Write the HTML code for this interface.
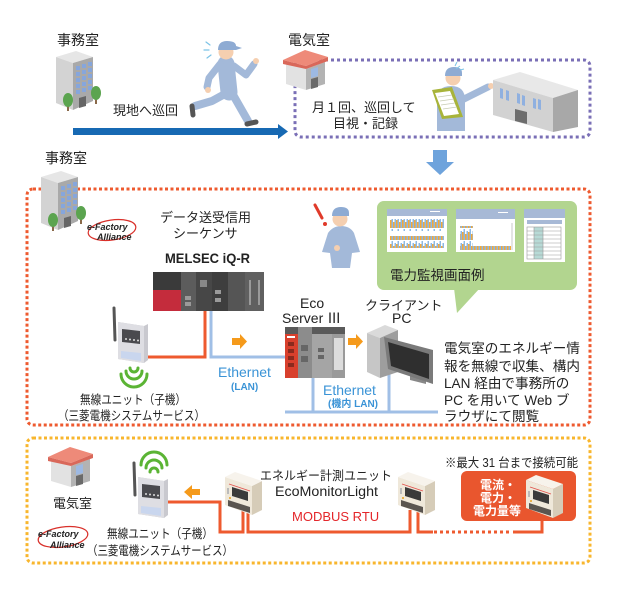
<!DOCTYPE html>
<html><head><meta charset="utf-8">
<style>
html,body{margin:0;padding:0;background:#fff;}
svg{display:block;}
text{font-family:"Liberation Sans","Noto Sans CJK JP",sans-serif;fill:#222;}
</style></head><body>
<svg width="617" height="606" viewBox="0 0 617 606" xmlns="http://www.w3.org/2000/svg">
<defs>
 <pattern id="bars" width="6" height="12" patternUnits="userSpaceOnUse">
  <rect x="0" y="4" width="1.5" height="8" fill="#f2a93b"/>
  <rect x="1.5" y="1" width="1.5" height="11" fill="#8db8e3"/>
  <rect x="3" y="6" width="1.5" height="6" fill="#f2a93b"/>
  <rect x="4.5" y="3" width="1.5" height="9" fill="#8db8e3"/>
 </pattern>
 <g id="bldg">
  <polygon points="1,7 21,1 38,7 18,13" fill="#e6e6e6"/>
  <polygon points="1,7 18,13 18,60 1,53" fill="#d3d3d3"/>
  <polygon points="18,13 38,7 38,51 18,60" fill="#a9a9a9"/>
  <g fill="#86a6dc">
   <rect x="21" y="16" width="4" height="4"/><rect x="27" y="14" width="4" height="4"/><rect x="33" y="12" width="4" height="4"/>
   <rect x="21" y="22" width="4" height="4"/><rect x="27" y="20" width="4" height="4"/><rect x="33" y="18" width="4" height="4"/>
   <rect x="21" y="28" width="4" height="4"/><rect x="27" y="26" width="4" height="4"/><rect x="33" y="24" width="4" height="4"/>
   <rect x="21" y="34" width="4" height="4"/><rect x="27" y="32" width="4" height="4"/><rect x="33" y="30" width="4" height="4"/>
   <rect x="21" y="40" width="4" height="4"/><rect x="27" y="38" width="4" height="4"/><rect x="33" y="36" width="4" height="4"/>
  </g>
  <polygon points="24,48 31,46 31,56 24,58" fill="#666"/>
  <rect x="12" y="52" width="2" height="9" fill="#8a6a4a"/>
  <ellipse cx="13" cy="50" rx="5" ry="7" fill="#5ba44f"/>
  <rect x="40" y="45" width="2" height="9" fill="#8a6a4a"/>
  <ellipse cx="41" cy="43" rx="5" ry="7" fill="#5ba44f"/>
 </g>
 <g id="house">
  <polygon points="3,13 23,19 23,40 3,34" fill="#e2e2e2"/>
  <polygon points="23,19 42,12 42,34 23,40" fill="#b3b3b3"/>
  <polygon points="28,19 35,17 35,26 28,28" fill="#9db9e3"/>
  <polygon points="28,29 35,27 35,37 28,39" fill="#6a6a6a"/>
  <polygon points="0,10 22,0 45,7 23,16" fill="#ee8a79"/>
  <polygon points="0,10 23,16 45,7 45,11 23,19 0,14" fill="#d9685a"/>
 </g>
 <g id="eml">
  <polygon points="3,5 30,14 30,43 3,33" fill="#efe8da"/>
  <polygon points="30,14 40,9 40,38 30,43" fill="#d6ccb8"/>
  <polygon points="3,5 13,0 40,9 30,14" fill="#f7f3ec"/>
  <polygon points="10,15 26,20 26,29 10,24" fill="#3a3a3a"/>
  <line x1="7" y1="12" x2="28" y2="19" stroke="#e0504a" stroke-width="0.8"/>
  <polygon points="6,28 28,35 28,41 6,34" fill="#5a5550"/>
  <rect x="5" y="16" width="2" height="6" fill="#bbb"/>
  <circle cx="8" cy="26" r="1" fill="#e5a020"/>
 </g>
 <g id="wunit">
  <line x1="-4" y1="-14" x2="-3" y2="18" stroke="#555" stroke-width="3" stroke-linecap="round"/>
  <polygon points="0,0 26,4 30,2 30,38 26,41 0,37" fill="#c9c9cf"/>
  <polygon points="0,0 26,4 26,41 0,37" fill="#dedee3"/>
  <polygon points="4,7 22,9 22,22 4,20" fill="#4a4a4e"/>
  <g fill="#ddd"><circle cx="8" cy="17" r="1"/><circle cx="12" cy="17.5" r="1"/><circle cx="16" cy="18" r="1"/><circle cx="20" cy="18.5" r="1"/></g>
  <polygon points="3,29 23,31 23,39 3,36" fill="#c9d6ee"/>
 </g>
</defs>

<!-- ============ TOP ============ -->
<rect x="295" y="60" width="295" height="77" rx="6" fill="none" stroke="#7a6fb6" stroke-width="3" stroke-dasharray="3 3"/>
<text x="57" y="45" font-size="14">事務室</text>
<use href="#bldg" x="55" y="50"/>
<text x="113" y="115" font-size="13">現地へ巡回</text>
<rect x="73" y="128" width="206" height="7" fill="#1769b3"/>
<polygon points="278,124 288,131.5 278,139" fill="#1769b3"/>

<!-- running man -->
<g stroke-linecap="round" stroke-linejoin="round" fill="none">
 <path d="M223,95 L212,101 L195,106" stroke="#a3b9d9" stroke-width="8"/>
 <path d="M192,106 L193,115" stroke="#555" stroke-width="5"/>
 <path d="M232,93 L240,107 L248,121" stroke="#a3b9d9" stroke-width="8"/>
 <path d="M247,124 L256,122" stroke="#555" stroke-width="5"/>
 <path d="M226,64 L229,92" stroke="#a3b9d9" stroke-width="17"/>
 <path d="M220,64 L209,78 L207,87" stroke="#a3b9d9" stroke-width="7"/>
 <path d="M234,66 L246,75 L254,64" stroke="#a3b9d9" stroke-width="7"/>
 <path d="M210,45 l-4,-3 M209,50 l-5,0 M211,55 l-4,3" stroke="#7cc3e6" stroke-width="1.2"/>
</g>
<circle cx="208" cy="90" r="3" fill="#f5cfb0"/>
<circle cx="256" cy="61" r="3" fill="#f5cfb0"/>
<circle cx="226" cy="52" r="7.5" fill="#f5cfb0"/>
<path d="M218,50 Q218,41 227,41 Q236,41 236,46 L242,48 L236,50 L218,50 Z" fill="#8eabd3"/>

<text x="288" y="45" font-size="14">電気室</text>
<use href="#house" x="283" y="50"/>
<text x="312" y="112" font-size="13">月１回、巡回して</text>
<text x="333" y="128" font-size="13">目視・記録</text>

<!-- inspector -->
<path d="M437,131 L437,100 Q437,86 451,86 Q465,86 465,100 L465,131 Z" fill="#a3b9d9"/>
<path d="M462,100 L488,87" stroke="#a3b9d9" stroke-width="7" stroke-linecap="round"/>
<circle cx="491" cy="86" r="3" fill="#f5cfb0"/>
<circle cx="453" cy="78" r="7.5" fill="#f5cfb0"/>
<path d="M445,76 Q445,67 454,67 Q462,67 462,73 L462,76 Z" fill="#8eabd3"/>
<path d="M456,69 l4,-3 M455,66 l2,-4 M460,70 l4,-1" stroke="#7cc3e6" stroke-width="1" fill="none"/>
<polygon points="432,90 452,87 463,117 442,119" fill="#a8b43a"/>
<polygon points="435,93 450,91 459,114 444,116" fill="#fff"/>
<g stroke="#c8ccb4" stroke-width="0.8"><line x1="438" y1="97" x2="452" y2="95"/><line x1="440" y1="101" x2="454" y2="99"/><line x1="441" y1="105" x2="455" y2="103"/><line x1="443" y1="109" x2="457" y2="107"/></g>

<!-- factory -->
<polygon points="493,80 520,72 578,90 553,98" fill="#e8e8e8"/>
<polygon points="493,80 553,98 553,132 493,115" fill="#d2d2d2"/>
<polygon points="553,98 578,90 578,127 553,132" fill="#a8a8a8"/>
<g fill="#8fb0e0">
 <polygon points="500,88 503,89 503,99 500,98"/>
 <polygon points="506,90 509,91 509,101 506,100"/>
 <polygon points="517,93 520,94 520,104 517,103"/>
 <polygon points="522,95 525,96 525,106 522,105"/>
 <polygon points="533,98 536,99 536,109 533,108"/>
 <polygon points="538,99 541,100 541,110 538,109"/>
</g>
<polygon points="515,109 527,112 527,124 515,121" fill="#6d6d6d"/>

<!-- down arrow -->
<rect x="433" y="150" width="14" height="12" fill="#6ea3dc"/>
<polygon points="426,162 454,162 440,175" fill="#6ea3dc"/>

<!-- ============ MIDDLE ============ -->
<rect x="27" y="189" width="563" height="236" rx="6" fill="none" stroke="#ee5a2f" stroke-width="3" stroke-dasharray="3 2.5"/>
<text x="45" y="163" font-size="14">事務室</text>
<use href="#bldg" x="40" y="170"/>
<ellipse cx="112" cy="230" rx="24" ry="10" fill="none" stroke="#d9302a" stroke-width="1.2" transform="rotate(-8 112 230)"/>
<text x="87" y="230" font-size="9" font-weight="bold" font-style="italic" fill="#555">e-Factory</text>
<text x="97" y="240" font-size="9" font-weight="bold" font-style="italic" fill="#555">Alliance</text>

<text x="160" y="222" font-size="13">データ送受信用</text>
<text x="173" y="238" font-size="13">シーケンサ</text>
<text x="165" y="263" font-size="14" font-weight="bold" textLength="85" lengthAdjust="spacingAndGlyphs" fill="#222">MELSEC iQ-R</text>

<!-- lines middle -->
<path d="M205,308 V357 H146" fill="none" stroke="#ee5a2f" stroke-width="3"/>
<path d="M211,308 V357 H287" fill="none" stroke="#a0bfe6" stroke-width="3"/>
<path d="M285,412 H438 M313,376 V412 M389,370 V412" fill="none" stroke="#a0bfe6" stroke-width="3"/>

<!-- PLC -->
<rect x="153" y="272" width="111" height="39" fill="#4f4f4f"/>
<rect x="153" y="272" width="28" height="18" fill="#3a3a3a"/>
<rect x="153" y="290" width="28" height="21" fill="#c42c3c"/>
<rect x="181" y="272" width="15" height="39" fill="#5c5c5c"/>
<rect x="196" y="272" width="16" height="39" fill="#474747"/>
<rect x="200" y="280" width="7" height="7" fill="#888"/>
<rect x="212" y="272" width="16" height="39" fill="#3e3e3e"/>
<rect x="228" y="272" width="17" height="39" fill="#555"/>
<rect x="245" y="272" width="19" height="39" fill="#606060"/>
<g fill="#9a9a9a"><rect x="185" y="296" width="6" height="4"/><rect x="185" y="302" width="6" height="4"/><rect x="215" y="290" width="6" height="4"/><rect x="215" y="298" width="6" height="4"/><rect x="249" y="280" width="2" height="25"/><rect x="258" y="280" width="2" height="25"/></g>

<!-- wireless unit middle -->
<use href="#wunit" x="118" y="322"/>
<g fill="none" stroke="#5bb434" stroke-width="3" stroke-linecap="round">
 <path d="M130,368 A4,4 0 0 0 138,368"/>
 <path d="M126,371 A8,8 0 0 0 142,371"/>
 <path d="M121,374 A13,13 0 0 0 147,374"/>
</g>
<text x="80" y="404" font-size="12.5" textLength="106" lengthAdjust="spacingAndGlyphs">無線ユニット（子機）</text>
<text x="58" y="420" font-size="12.5" textLength="147" lengthAdjust="spacingAndGlyphs">（三菱電機システムサービス）</text>

<!-- orange arrows -->
<polygon points="232,338 240,338 240,334 247,341.5 240,349 240,345 232,345" fill="#f59a1b"/>
<polygon points="348,338 356,338 356,334 363,341.5 356,349 356,345 348,345" fill="#f59a1b"/>

<text x="218" y="377" font-size="14" fill="#3a93d6" style="fill:#3a93d6">Ethernet</text>
<text x="231" y="390" font-size="10" font-weight="bold" style="fill:#3a93d6">(LAN)</text>

<!-- Eco server -->
<rect x="285" y="327" width="60" height="51" fill="#9a9a9a"/>
<rect x="285" y="327" width="13" height="51" fill="#d8402d"/>
<rect x="285" y="327" width="60" height="7" fill="#5a5a5a"/>
<rect x="287" y="336" width="8" height="2" fill="#fff"/>
<g fill="#8a2a1e"><rect x="288" y="342" width="6" height="4"/><rect x="288" y="349" width="6" height="4"/><rect x="288" y="356" width="6" height="4"/><rect x="288" y="363" width="6" height="4"/></g>
<rect x="298" y="327" width="14" height="51" fill="#8c8c8c"/>
<rect x="312" y="327" width="20" height="51" fill="#a5a5a5"/>
<rect x="312" y="327" width="20" height="7" fill="#5a5a5a"/>
<rect x="332" y="327" width="13" height="7" fill="#5a5a5a"/>
<rect x="334" y="338" width="9" height="32" fill="#dcdcdc"/>
<g fill="#666"><rect x="301" y="345" width="7" height="6"/><rect x="301" y="356" width="7" height="6"/><rect x="318" y="348" width="6" height="4"/><rect x="318" y="355" width="6" height="4"/></g>
<text x="300" y="308" font-size="14">Eco</text>
<text x="282" y="323" font-size="14">Server Ⅲ</text>

<!-- client PC -->
<polygon points="367,333 385,325 398,330 380,338" fill="#dadada"/>
<polygon points="367,333 380,338 380,378 367,372" fill="#c6c6c6"/>
<polygon points="380,338 398,330 398,372 380,378" fill="#9e9e9e"/>
<polygon points="410,372 426,377 426,384 410,380" fill="#888"/>
<polygon points="384,337 433,350 433,384 388,369" fill="#7a7a7a"/>
<polygon points="388,342 429,354 429,379 391,366" fill="#2f2f2f"/>
<text x="365" y="310" font-size="13">クライアント</text>
<text x="392" y="323" font-size="14">PC</text>

<text x="323" y="395" font-size="14" style="fill:#3a93d6">Ethernet</text>
<text x="328" y="407" font-size="10" font-weight="bold" style="fill:#3a93d6">(機内 LAN)</text>

<g font-size="13.6">
 <text x="444" y="353">電気室のエネルギー情</text>
 <text x="444" y="371">報を無線で収集、構内</text>
 <text x="444" y="388">LAN 経由で事務所の</text>
 <text x="444" y="405">PC を用いて Web ブ</text>
 <text x="444" y="421">ラウザにて閲覧</text>
</g>

<!-- person with ! -->
<path d="M322,252 L328,233 Q333,226 341,226 Q350,226 354,233 L360,252 L352,253 L350,268 L332,268 L330,253 Z" fill="#a3b9d9"/>
<circle cx="337" cy="248" r="3" fill="#f5cfb0"/>
<circle cx="340" cy="219" r="7.5" fill="#f5cfb0"/>
<path d="M332,216 Q332,207 341,207 Q349,207 349,213 L349,216 Z" fill="#8eabd3"/>
<path d="M315,205 L322,218" stroke="#e03a2a" stroke-width="3" stroke-linecap="round"/>
<circle cx="325" cy="224" r="2" fill="#e03a2a"/>

<!-- callout -->
<rect x="377" y="201" width="200" height="89" rx="7" fill="#b2d58f"/>
<polygon points="454,288 457,313 480,288" fill="#b2d58f"/>
<rect x="387" y="209" width="60" height="43" fill="#fff"/>
<rect x="387" y="209" width="60" height="7" fill="#a7b9d6"/>
<rect x="430" y="211" width="10" height="1" fill="#fff"/>
<rect x="390" y="219" width="54" height="12" fill="url(#bars)"/>
<rect x="390" y="236" width="54" height="12" fill="url(#bars)"/>
<rect x="456" y="209" width="59" height="43" fill="#fff"/>
<rect x="456" y="209" width="59" height="10" fill="#a7b9d6"/>
<rect x="498" y="212" width="10" height="1" fill="#fff"/>
<rect x="460" y="226" width="13" height="24" fill="url(#bars)"/>
<rect x="473" y="246" width="38" height="4" fill="url(#bars)"/>
<line x1="512" y1="223" x2="512" y2="250" stroke="#bbb" stroke-width="0.8"/>
<rect x="524" y="209" width="41" height="53" fill="#fff"/>
<rect x="524" y="209" width="41" height="9" fill="#a7b9d6"/>
<rect x="527" y="220" width="35" height="4" fill="#a7b9d6"/>
<rect x="534" y="227" width="9" height="32" fill="#b7dad6"/>
<g stroke="#999" stroke-width="0.6" fill="none">
 <rect x="527" y="227" width="34" height="32"/>
 <line x1="527" y1="231" x2="561" y2="231"/><line x1="527" y1="235" x2="561" y2="235"/><line x1="527" y1="239" x2="561" y2="239"/><line x1="527" y1="243" x2="561" y2="243"/><line x1="527" y1="247" x2="561" y2="247"/><line x1="527" y1="251" x2="561" y2="251"/><line x1="527" y1="255" x2="561" y2="255"/>
 <line x1="534" y1="227" x2="534" y2="259"/><line x1="543" y1="227" x2="543" y2="259"/>
</g>
<text x="390" y="280" font-size="13.5">電力監視画面例</text>

<!-- ============ BOTTOM ============ -->
<rect x="27" y="438" width="563" height="125" rx="6" fill="none" stroke="#f8b62d" stroke-width="3" stroke-dasharray="3 2.5"/>
<use href="#house" x="48" y="447"/>
<text x="53" y="508" font-size="13">電気室</text>
<ellipse cx="63" cy="537" rx="25" ry="10" fill="none" stroke="#d9302a" stroke-width="1.2" transform="rotate(-8 63 537)"/>
<text x="38" y="537" font-size="9" font-weight="bold" font-style="italic" fill="#555">e-Factory</text>
<text x="50" y="548" font-size="9" font-weight="bold" font-style="italic" fill="#555">Alliance</text>

<!-- bottom lines -->
<path d="M166,502 H220 V532 H243 V510" fill="none" stroke="#ee5a2f" stroke-width="3"/>
<path d="M248,510 V532 H410 V510" fill="none" stroke="#ee5a2f" stroke-width="3"/>
<path d="M418,510 V532 H433" fill="none" stroke="#ee5a2f" stroke-width="3"/>
<path d="M434,532 H510" fill="none" stroke="#ee5a2f" stroke-width="3" stroke-dasharray="3 3"/>
<path d="M513,532 H542 V518" fill="none" stroke="#ee5a2f" stroke-width="3"/>

<use href="#wunit" x="138" y="477"/>
<g fill="none" stroke="#5bb434" stroke-width="3" stroke-linecap="round">
 <path d="M150,472 A4,4 0 0 1 158,472"/>
 <path d="M146,468 A8,8 0 0 1 162,468"/>
 <path d="M141,465 A13,13 0 0 1 167,465"/>
</g>
<polygon points="200,489 192,489 192,485 184,492 192,499 192,495 200,495" fill="#f59a1b"/>
<text x="107" y="538" font-size="12.5" textLength="106" lengthAdjust="spacingAndGlyphs">無線ユニット（子機）</text>
<text x="87" y="555" font-size="12.5" textLength="146" lengthAdjust="spacingAndGlyphs">（三菱電機システムサービス）</text>

<use href="#eml" x="222" y="472"/>
<use href="#eml" x="395" y="472"/>
<text x="260" y="480" font-size="12.5" textLength="132" lengthAdjust="spacingAndGlyphs">エネルギー計測ユニット</text>
<text x="275" y="496" font-size="13.5" textLength="103" lengthAdjust="spacingAndGlyphs">EcoMonitorLight</text>
<text x="292" y="521" font-size="13" style="fill:#e4262a">MODBUS RTU</text>

<text x="445" y="467" font-size="12.5" textLength="133" lengthAdjust="spacingAndGlyphs">※最大 31 台まで接続可能</text>
<rect x="461" y="471" width="115" height="50" rx="6" fill="#e9562e"/>
<g font-size="12" font-weight="bold" style="fill:#fff">
 <text x="480" y="489" style="fill:#fff">電流・</text>
 <text x="480" y="502" style="fill:#fff">電力・</text>
 <text x="473" y="515" style="fill:#fff">電力量等</text>
</g>
<use href="#eml" x="523" y="475"/>
</svg>
</body></html>
